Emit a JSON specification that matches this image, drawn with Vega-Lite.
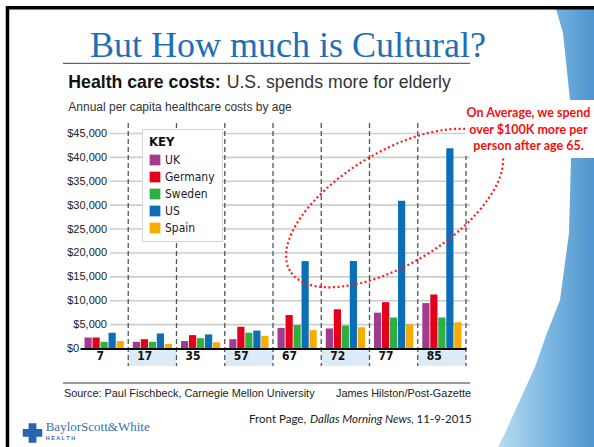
{
  "$schema": "https://vega.github.io/schema/vega-lite/v6.json",
  "width": 386,
  "height": 215,
  "autosize": {"type": "none"},
  "padding": {"left": 80, "top": 133.5, "right": 128, "bottom": 98.5},
  "background": "white",
  "config": {"view": {"stroke": null}, "font": "Liberation Sans", "axisY": {"labelOverlap": false, "tickCount": 10}},
  "datasets": {
    "costs": [
      {"age": "7", "country": "UK", "cost": 2300},
      {"age": "7", "country": "Germany", "cost": 2300},
      {"age": "7", "country": "Sweden", "cost": 1400},
      {"age": "7", "country": "US", "cost": 3300},
      {"age": "7", "country": "Spain", "cost": 1550},
      {"age": "17", "country": "UK", "cost": 1400},
      {"age": "17", "country": "Germany", "cost": 1950},
      {"age": "17", "country": "Sweden", "cost": 1400},
      {"age": "17", "country": "US", "cost": 3150},
      {"age": "17", "country": "Spain", "cost": 950},
      {"age": "35", "country": "UK", "cost": 1550},
      {"age": "35", "country": "Germany", "cost": 2800},
      {"age": "35", "country": "Sweden", "cost": 2150},
      {"age": "35", "country": "US", "cost": 2950},
      {"age": "35", "country": "Spain", "cost": 1300},
      {"age": "57", "country": "UK", "cost": 1950},
      {"age": "57", "country": "Germany", "cost": 4550},
      {"age": "57", "country": "Sweden", "cost": 3300},
      {"age": "57", "country": "US", "cost": 3750},
      {"age": "57", "country": "Spain", "cost": 2650},
      {"age": "67", "country": "UK", "cost": 4300},
      {"age": "67", "country": "Germany", "cost": 7000},
      {"age": "67", "country": "Sweden", "cost": 4900},
      {"age": "67", "country": "US", "cost": 18300},
      {"age": "67", "country": "Spain", "cost": 3850},
      {"age": "72", "country": "UK", "cost": 4200},
      {"age": "72", "country": "Germany", "cost": 8200},
      {"age": "72", "country": "Sweden", "cost": 4800},
      {"age": "72", "country": "US", "cost": 18300},
      {"age": "72", "country": "Spain", "cost": 4450},
      {"age": "77", "country": "UK", "cost": 7500},
      {"age": "77", "country": "Germany", "cost": 9700},
      {"age": "77", "country": "Sweden", "cost": 6500},
      {"age": "77", "country": "US", "cost": 30900},
      {"age": "77", "country": "Spain", "cost": 5100},
      {"age": "85", "country": "UK", "cost": 9500},
      {"age": "85", "country": "Germany", "cost": 11300},
      {"age": "85", "country": "Sweden", "cost": 6500},
      {"age": "85", "country": "US", "cost": 41900},
      {"age": "85", "country": "Spain", "cost": 5500}
    ],
    "grid": [
      {"g": 5000}, {"g": 10000}, {"g": 15000}, {"g": 20000}, {"g": 25000},
      {"g": 30000}, {"g": 35000}, {"g": 40000}, {"g": 45000}
    ],
    "ages": [
      {"age": "7"}, {"age": "17"}, {"age": "35"}, {"age": "57"},
      {"age": "67"}, {"age": "72"}, {"age": "77"}, {"age": "85"}
    ]
  },
  "layer": [
    {
      "layer": [
        {
          "data": {"name": "grid"},
          "mark": {"type": "rule", "color": "#cdcdcd", "strokeWidth": 1.6},
          "encoding": {
            "y": {
              "field": "g", "type": "quantitative", "title": null,
              "scale": {"domain": [0, 45000], "nice": false},
              "axis": {
                "values": [0, 5000, 10000, 15000, 20000, 25000, 30000, 35000, 40000, 45000],
                "tickCount": 10,
                "format": "$,.0f", "labelOverlap": false, "domain": false, "ticks": false, "grid": false,
                "labelFont": "Liberation Sans", "labelFontSize": 11, "labelColor": "#222222",
                "labelAlign": {"expr": "datum.value === 0 ? 'left' : 'right'"},
                "labelPadding": {"expr": "datum.value === 0 ? 13.5 : -26.5"}
              }
            },
            "x": {"datum": "7", "bandPosition": 0.622},
            "x2": {"datum": "85", "bandPosition": 1.083}
          }
        },
        {
          "data": {"name": "ages"},
          "transform": [{"filter": {"field": "age", "oneOf": ["17", "57", "72", "85"]}}],
          "mark": {"type": "rect", "color": "#dcebf8"},
          "encoding": {
            "x": {"field": "age", "type": "nominal", "title": null},
            "y": {"datum": -350},
            "y2": {"datum": -3661}
          }
        },
        {
          "data": {"name": "ages"},
          "mark": {"type": "rule", "color": "#555555", "strokeWidth": 1.3, "strokeDash": [5, 3]},
          "encoding": {
            "x": {"field": "age", "type": "nominal", "bandPosition": 1, "title": null},
            "y": {"datum": 47175},
            "y2": {"datum": -3661}
          }
        },
        {
          "data": {"name": "costs"},
          "mark": {"type": "bar"},
          "encoding": {
            "x": {
              "field": "age", "type": "nominal", "title": "AGE",
              "scale": {"domain": ["7", "17", "35", "57", "67", "72", "77", "85"], "paddingInner": 0, "paddingOuter": 0},
              "axis": {
                "zindex": 1, "domain": true, "domainColor": "#000000", "domainWidth": 2,
                "ticks": false, "grid": false, "labelAngle": 0,
                "labelFont": "Liberation Sans Narrow, DejaVu Sans Condensed, Liberation Sans",
                "labelFontWeight": "bold", "labelFontSize": 12, "labelColor": "#111111", "labelPadding": 6.5,
                "titleFont": "Liberation Sans", "titleFontSize": 11, "titleFontWeight": "normal",
                "titleColor": "#222222", "titlePadding": 3.5
              }
            },
            "xOffset": {
              "field": "country", "type": "nominal",
              "scale": {"domain": ["UK", "Germany", "Sweden", "US", "Spain"], "paddingInner": 0.1, "paddingOuter": 0.565}
            },
            "y": {
              "field": "cost", "type": "quantitative", "title": null,
              "scale": {"domain": [0, 45000], "nice": false},
              "axis": {
                "values": [0, 5000, 10000, 15000, 20000, 25000, 30000, 35000, 40000, 45000],
                "tickCount": 10,
                "format": "$,.0f", "labelOverlap": false, "domain": false, "ticks": false, "grid": false,
                "labelFont": "Liberation Sans", "labelFontSize": 11, "labelColor": "#222222",
                "labelAlign": {"expr": "datum.value === 0 ? 'left' : 'right'"},
                "labelPadding": {"expr": "datum.value === 0 ? 13.5 : -26.5"}
              }
            },
            "color": {
              "field": "country", "type": "nominal",
              "scale": {
                "domain": ["UK", "Germany", "Sweden", "US", "Spain"],
                "range": ["#a13b8e", "#e2001a", "#2db040", "#0b6fb8", "#f7ab00"]
              },
              "legend": {
                "orient": "none", "legendX": 62, "legendY": -4.5,
                "title": "KEY",
                "titleFont": "Liberation Sans Narrow, DejaVu Sans Condensed, Liberation Sans",
                "titleFontSize": 13, "titleFontWeight": "bold", "titleColor": "#111111", "titlePadding": 5,
                "fillColor": "white", "strokeColor": "#d5d5d5", "padding": 7,
                "symbolType": "square", "symbolSize": 115, "symbolStrokeWidth": 0, "symbolOpacity": 1,
                "labelFont": "Liberation Sans Narrow, DejaVu Sans Condensed, Liberation Sans",
                "labelFontSize": 12, "labelColor": "#222222", "labelOffset": 4, "rowPadding": 5
              }
            }
          }
        }
      ]
    },
    {
      "data": {"values": [{}]},
      "layer": [
        {
          "mark": {
            "type": "point",
            "shape": "M -38 -438 L -31 -414 L -24 -347 L 0 -347 L 0 -438 Z M -23 -289 L -25 -214 L -34 -147 L -47 -114 L -59 -80 L -74 -47 L -89 -14 L -96 0 L 0 0 L 0 -289 Z",
            "size": 4, "filled": true, "opacity": 1, "strokeWidth": 0,
            "fill": {"gradient": "linear", "x1": 0, "y1": 0, "x2": 1, "y2": 0,
              "stops": [{"offset": 0, "color": "#b9dcf2"}, {"offset": 0.5, "color": "#7fb8e2"}, {"offset": 1, "color": "#4f95cf"}]}
          },
          "encoding": {
            "x": {"datum": 10.653, "scale": {"domain": [0, 8], "nice": false, "zero": false}, "axis": null},
            "y": {"datum": -20606}
          }
        },
        {
          "mark": {"type": "rule", "color": "#000000", "strokeWidth": 3.5},
          "encoding": {
            "x": {"datum": -1.534, "scale": {"domain": [0, 8], "nice": false, "zero": false}, "axis": null},
            "x2": {"datum": 10.653},
            "y": {"datum": 71337}
          }
        },
        {
          "mark": {"type": "rule", "color": "#000000", "strokeWidth": 3.5},
          "encoding": {
            "x": {"datum": -1.503, "scale": {"domain": [0, 8], "nice": false, "zero": false}, "axis": null},
            "y": {"datum": 71650},
            "y2": {"datum": -20606}
          }
        },
        {
          "mark": {"type": "text", "align": "center", "baseline": "alphabetic", "font": "Liberation Serif", "fontSize": 36, "color": "#1d6fb8"},
          "encoding": {
            "x": {"datum": 4.311, "scale": {"domain": [0, 8], "nice": false, "zero": false}, "axis": null},
            "y": {"datum": 60982},
            "text": {"value": "But How much is Cultural?"}
          }
        },
        {
          "mark": {"type": "rule", "color": "#666666", "strokeWidth": 1.2},
          "encoding": {
            "x": {"datum": -0.352, "scale": {"domain": [0, 8], "nice": false, "zero": false}, "axis": null},
            "x2": {"datum": 8.083},
            "y": {"datum": 59664}
          }
        },
        {
          "mark": {"type": "text", "align": "left", "baseline": "alphabetic", "font": "Liberation Sans", "fontSize": 17.7, "fontWeight": "bold", "color": "#111111"},
          "encoding": {
            "x": {"datum": -0.2425, "scale": {"domain": [0, 8], "nice": false, "zero": false}, "axis": null},
            "y": {"datum": 54434},
            "text": {"value": "Health care costs:"}
          }
        },
        {
          "mark": {"type": "text", "align": "left", "baseline": "alphabetic", "font": "Liberation Sans", "fontSize": 17.7, "color": "#333333"},
          "encoding": {
            "x": {"datum": 3.04, "scale": {"domain": [0, 8], "nice": false, "zero": false}, "axis": null},
            "y": {"datum": 54434},
            "text": {"value": "U.S. spends more for elderly"}
          }
        },
        {
          "mark": {"type": "text", "align": "left", "baseline": "alphabetic", "font": "Liberation Sans", "fontSize": 12, "color": "#333333"},
          "encoding": {
            "x": {"datum": -0.2425, "scale": {"domain": [0, 8], "nice": false, "zero": false}, "axis": null},
            "y": {"datum": 49790},
            "text": {"value": "Annual per capita healthcare costs by age"}
          }
        },
        {
          "mark": {"type": "rule", "color": "#777777", "strokeWidth": 1.5},
          "encoding": {
            "x": {"datum": -0.352, "scale": {"domain": [0, 8], "nice": false, "zero": false}, "axis": null},
            "x2": {"datum": 8.083},
            "y": {"datum": -7217}
          }
        },
        {
          "mark": {"type": "text", "align": "left", "baseline": "alphabetic", "font": "Liberation Sans", "fontSize": 10.9, "color": "#222222"},
          "encoding": {
            "x": {"datum": -0.332, "scale": {"domain": [0, 8], "nice": false, "zero": false}, "axis": null},
            "y": {"datum": -10146},
            "text": {"value": "Source: Paul Fischbeck, Carnegie Mellon University"}
          }
        },
        {
          "mark": {"type": "text", "align": "right", "baseline": "alphabetic", "font": "Liberation Sans", "fontSize": 10.9, "color": "#222222"},
          "encoding": {
            "x": {"datum": 8.104, "scale": {"domain": [0, 8], "nice": false, "zero": false}, "axis": null},
            "y": {"datum": -10146},
            "text": {"value": "James Hilston/Post-Gazette"}
          }
        },
        {
          "mark": {"type": "text", "align": "right", "baseline": "alphabetic", "font": "Lato", "fontSize": 11.5, "color": "#222222"},
          "encoding": {
            "x": {"datum": 4.684, "scale": {"domain": [0, 8], "nice": false, "zero": false}, "axis": null},
            "y": {"datum": -15648},
            "text": {"value": "Front Page,"}
          }
        },
        {
          "mark": {"type": "text", "align": "left", "baseline": "alphabetic", "font": "Lato", "fontSize": 11.5, "fontStyle": "italic", "color": "#222222"},
          "encoding": {
            "x": {"datum": 4.767, "scale": {"domain": [0, 8], "nice": false, "zero": false}, "axis": null},
            "y": {"datum": -15648},
            "text": {"value": "Dallas Morning News"}
          }
        },
        {
          "mark": {"type": "text", "align": "left", "baseline": "alphabetic", "font": "Lato", "fontSize": 11.5, "color": "#222222"},
          "encoding": {
            "x": {"datum": 6.86, "scale": {"domain": [0, 8], "nice": false, "zero": false}, "axis": null},
            "y": {"datum": -15648},
            "text": {"value": ", 11-9-2015"}
          }
        },
        {
          "mark": {"type": "point", "shape": "cross", "size": 380, "filled": true, "opacity": 1, "color": "#2a63ae"},
          "encoding": {
            "x": {"datum": -0.984, "scale": {"domain": [0, 8], "nice": false, "zero": false}, "axis": null},
            "y": {"datum": -17677}
          }
        },
        {
          "mark": {"type": "text", "align": "left", "baseline": "alphabetic", "font": "Liberation Serif", "fontSize": 13, "color": "#3a6cb3"},
          "encoding": {
            "x": {"datum": -0.711, "scale": {"domain": [0, 8], "nice": false, "zero": false}, "axis": null},
            "y": {"datum": -17259},
            "text": {"value": "BaylorScott&White"}
          }
        },
        {
          "mark": {"type": "text", "align": "left", "baseline": "alphabetic", "font": "Liberation Sans", "fontSize": 5.5, "fontWeight": "bold", "color": "#3a6cb3"},
          "encoding": {
            "x": {"datum": -0.711, "scale": {"domain": [0, 8], "nice": false, "zero": false}, "axis": null},
            "y": {"datum": -19246},
            "text": {"value": "H E A L T H"}
          }
        },
        {
          "mark": {
            "type": "point",
            "shape": "M -1 0 C -1 -0.255 -0.552 -0.462 0 -0.462 C 0.552 -0.462 1 -0.255 1 0 C 1 0.255 0.552 0.462 0 0.462 C -0.552 0.462 -1 0.255 -1 0 Z",
            "size": 59536, "angle": 329, "filled": false, "opacity": 1,
            "stroke": "#ff1a1a", "strokeWidth": 2.2, "strokeDash": [2, 2.6]
          },
          "encoding": {
            "x": {"datum": 6.52, "scale": {"domain": [0, 8], "nice": false, "zero": false}, "axis": null},
            "y": {"datum": 29400}
          }
        },
        {
          "mark": {"type": "rect", "color": "white"},
          "encoding": {
            "x": {"datum": 7.979, "scale": {"domain": [0, 8], "nice": false, "zero": false}, "axis": null},
            "x2": {"datum": 10.653},
            "y": {"datum": 51568},
            "y2": {"datum": 40271}
          }
        },
        {
          "mark": {"type": "text", "align": "center", "baseline": "middle", "font": "Lato", "fontSize": 12.5, "fontWeight": "bold", "color": "#f50f0f", "lineHeight": 16.5},
          "encoding": {
            "x": {"datum": 9.295, "scale": {"domain": [0, 8], "nice": false, "zero": false}, "axis": null},
            "y": {"datum": 49266},
            "text": {"value": ["On Average, we spend", "over $100K more per", "person after age 65."]}
          }
        }
      ]
    }
  ],
  "resolve": {"scale": {"x": "independent"}, "axis": {"x": "independent"}}
}
